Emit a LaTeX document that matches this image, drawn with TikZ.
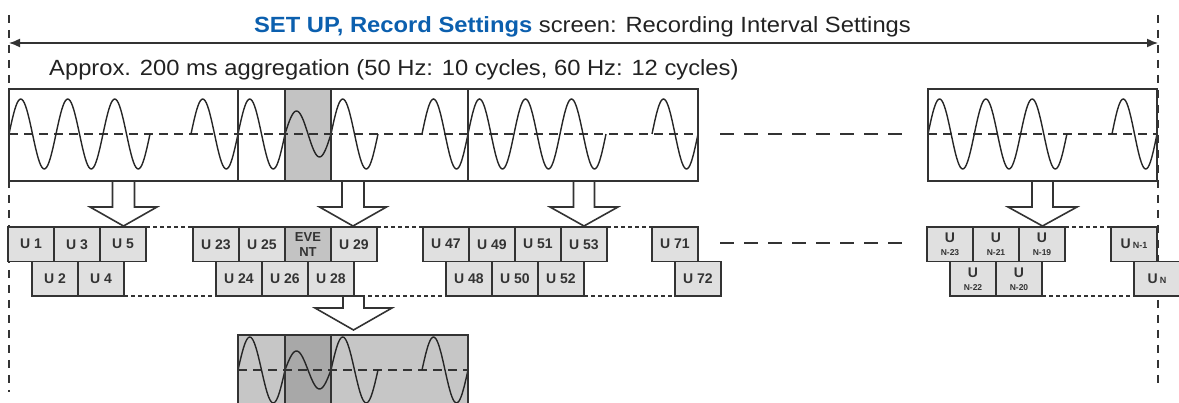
\documentclass[tikz,border=0pt]{standalone}
\usepackage{fontspec}
\setmainfont{Liberation Sans}
\newfontfamily\titlefont[FakeStretch=1.08]{Liberation Sans}
\usetikzlibrary{arrows.meta}
\definecolor{ttblue}{HTML}{0B5FAE}
\definecolor{lnc}{HTML}{333333}
\definecolor{txt}{HTML}{222222}
\definecolor{tilefill}{HTML}{E0E0E0}
\definecolor{evfill}{HTML}{C3C3C3}
\definecolor{lowfill}{HTML}{C6C6C6}
\definecolor{lowdark}{HTML}{A8A8A8}
\newcommand\cyc[4]{\draw[wave] plot[domain=0:1, samples=41, smooth] ({#1+#2*\x},{#4-#3*sin(360*\x)});}
\newcommand\barrow[6]{\draw[blockarrow] (#1-#3,#2) -- (#1-#3,#5) -- (#1-#4,#5) -- (#1,#6) -- (#1+#4,#5) -- (#1+#3,#5) -- (#1+#3,#2);}
\newcommand\barrowclosed[6]{\draw[blockarrow] (#1-#3,#2) -- (#1-#3,#5) -- (#1-#4,#5) -- (#1,#6) -- (#1+#4,#5) -- (#1+#3,#5) -- (#1+#3,#2) -- cycle;}
\begin{document}
\begin{tikzpicture}[x=1pt,y=-1pt,
 boxline/.style={draw=lnc, line width=1.6pt},
 wave/.style={draw=black!85, line width=1.4pt},
 mid/.style={draw=lnc, line width=1.4pt, dash pattern=on 9pt off 6pt},
 midwide/.style={draw=lnc, line width=1.4pt, dash pattern=on 14pt off 10pt},
 vdash/.style={draw=lnc, line width=1.5pt, dash pattern=on 8pt off 7pt},
 blockarrow/.style={draw=lnc, fill=white, line width=1.6pt, line join=miter},
 tile/.style={draw=lnc, fill=tilefill, line width=1.4pt, minimum width=46pt, minimum height=34.5pt, inner sep=0pt, outer sep=0pt, anchor=north west, font=\fontsize{14}{16}\selectfont\bfseries, text=lnc, align=center},
 dots/.style={draw=lnc, line width=1.5pt, dash pattern=on 4pt off 3pt}
]
\useasboundingbox (0,0) rectangle (1179,403);

% title and arrow
\node[anchor=base, inner sep=0pt, text=txt] (title) at (582.5,33) {\titlefont\fontsize{22}{26}\selectfont\textcolor{ttblue}{\bfseries SET UP, Record Settings} screen: Recording Interval Settings};
\node[anchor=base west, inner sep=0pt, text=txt] (agg) at (49,76) {\titlefont\fontsize{22}{26}\selectfont Approx. 200 ms aggregation (50 Hz: 10 cycles, 60 Hz: 12 cycles)};

\coordinate (lt) at (9,15);
\coordinate (lb) at (9,392);
\coordinate (rt) at (1158,15);
\coordinate (rb) at (1158,388);
\draw[vdash] (lt) -- (lb);
\draw[vdash] (rt) -- (rb);
\coordinate (aL) at (9,43);
\coordinate (aR) at (1158,43);
\draw[draw=lnc, line width=1.5pt, {Latex[length=11pt,width=9pt]}-{Latex[length=11pt,width=9pt]}] (aL) -- (aR);

% block arrows
\barrow{123.5}{181}{11}{33.5}{207}{226}
\barrow{353}{181}{11}{33.5}{207}{226}
\barrow{584}{181}{10.5}{34}{207}{226}
\barrow{1042.5}{181}{10.5}{34.5}{207}{226}

% waveform boxes
\fill[white] (9,89) rectangle (698,181);
\fill[white] (928,89) rectangle (1157,181);
\fill[evfill] (285,89) rectangle (331,181);
\draw[mid] (9,134) -- (698,134);
\coordinate (gL) at (720,134);
\coordinate (gR) at (905,134);
\draw[midwide] (gL) -- (gR);
\draw[mid] (928,134) -- (1157,134);
% box 1
\cyc{9}{47}{35}{134}\cyc{56}{47}{35}{134}\cyc{103}{47}{35}{134}\cyc{191}{47}{35}{134}
% box 2
\cyc{238}{47}{35}{134}\cyc{285}{46}{23}{134}\cyc{331}{47}{35}{134}\cyc{422}{46}{35}{134}
% box 3
\cyc{468}{46}{35}{134}\cyc{514}{46}{35}{134}\cyc{560}{46}{35}{134}\cyc{652}{46}{35}{134}
% box 4
\cyc{928}{46.3}{35}{134}\cyc{974.3}{46.3}{35}{134}\cyc{1020.6}{46.3}{35}{134}\cyc{1112}{45}{35}{134}
\draw[boxline] (9,89) rectangle (238,181);
\draw[boxline] (238,89) rectangle (468,181);
\draw[boxline] (285,89) -- (285,181) (331,89) -- (331,181);
\draw[boxline] (468,89) rectangle (698,181);
\draw[boxline] (928,89) rectangle (1157,181);

% tiles
\node[tile] (u1) at (8,227) {U 1};
\node[tile] (u3) at (u1.north east) {U 3};
\node[tile] (u5) at (u3.north east) {U 5};
\node[tile] (u2) at (32,261.5) {U 2};
\node[tile] (u4) at (u2.north east) {U 4};

\node[tile] (u23) at (193,227) {U 23};
\node[tile] (u25) at (u23.north east) {U 25};
\node[tile, fill=evfill, font=\fontsize{13}{15}\selectfont\bfseries] (ev) at (u25.north east) {EVE\\NT};
\node[tile] (u29) at (ev.north east) {U 29};
\node[tile] (u24) at (216,261.5) {U 24};
\node[tile] (u26) at (u24.north east) {U 26};
\node[tile] (u28) at (u26.north east) {U 28};

\node[tile] (u47) at (423,227) {U 47};
\node[tile] (u49) at (u47.north east) {U 49};
\node[tile] (u51) at (u49.north east) {U 51};
\node[tile] (u53) at (u51.north east) {U 53};
\node[tile] (u48) at (446,261.5) {U 48};
\node[tile] (u50) at (u48.north east) {U 50};
\node[tile] (u52) at (u50.north east) {U 52};

\node[tile] (u71) at (652,227) {U 71};
\node[tile] (u72) at (675,261.5) {U 72};

\node[tile] (n23) at (927,227) {U\\[-3pt]{\fontsize{8.5}{9}\selectfont N-23}};
\node[tile] (n21) at (n23.north east) {U\\[-3pt]{\fontsize{8.5}{9}\selectfont N-21}};
\node[tile] (n19) at (n21.north east) {U\\[-3pt]{\fontsize{8.5}{9}\selectfont N-19}};
\node[tile] (n22) at (950,261.5) {U\\[-3pt]{\fontsize{8.5}{9}\selectfont N-22}};
\node[tile] (n20) at (n22.north east) {U\\[-3pt]{\fontsize{8.5}{9}\selectfont N-20}};

\node[tile] (un1) at (1111,227) {U\,{\fontsize{9}{9}\selectfont N-1}};
\node[tile] (un) at (1134,261.5) {U\,{\fontsize{9}{9}\selectfont N}};

% dotted connectors
\draw[dots] (u5.north east) -- (u23.north west);
\draw[dots] (u29.north east) -- (u47.north west);
\draw[dots] (u53.north east) -- (u71.north west);
\draw[dots] (n19.north east) -- (un1.north west);
\draw[dots] (u4.south east) -- (u24.south west);
\draw[dots] (u28.south east) -- (u48.south west);
\draw[dots] (u52.south east) -- (u72.south west);
\draw[dots] (n20.south east) -- (un.south west);
\coordinate (tL) at (720,243);
\coordinate (tR) at (905,243);
\draw[midwide] (tL) -- (tR);

% arrow to lower box
\barrowclosed{353.5}{296}{10.5}{38.5}{308}{330}

% lower zoomed box
\fill[lowfill] (238,335) rectangle (468,410);
\fill[lowdark] (285,335) rectangle (331,410);
\draw[mid] (238,370) -- (468,370);
\cyc{238}{47}{33}{370}\cyc{285}{46}{19}{370}\cyc{331}{47}{33}{370}\cyc{422}{46}{33}{370}
\draw[boxline] (238,410) -- (238,335) -- (468,335) -- (468,410);
\draw[boxline] (285,335) -- (285,410) (331,335) -- (331,410);
\end{tikzpicture}
\end{document}
